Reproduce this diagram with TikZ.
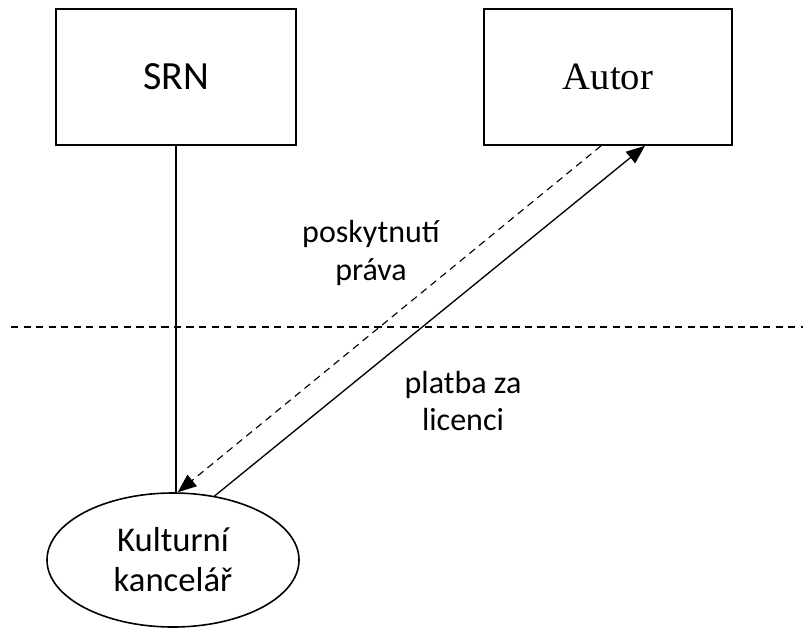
\documentclass[tikz,border=0pt]{standalone}
\usepackage{fontspec}
\setmainfont{Carlito}
\newfontfamily\autorfont{Liberation Serif}
\usetikzlibrary{arrows.meta,shapes.geometric}

\tikzset{
  box/.style={draw,line width=1.2pt,rectangle,inner sep=0pt,minimum height=102pt},
  lbl/.style={align=center,font=\fontsize{24}{28}\selectfont},
  arr/.style={line width=1pt,-{Triangle[length=14pt,width=11pt]}},
  dash line/.style={line width=0.85pt,dash pattern=on 5.4pt off 4pt}
}

\begin{document}
\begin{tikzpicture}[x=0.75pt,y=-0.75pt]
\useasboundingbox (0,0) rectangle (803,629);

\node[box,minimum width=180pt,align=center,font=\fontsize{30}{34}\selectfont] (srn) at (176,77) {SRN};
\node[box,minimum width=186pt,align=center,font=\fontsize{29}{34}\autorfont] (autor) at (608,77) {Autor};
\node[draw,ellipse,line width=1.2pt,inner sep=0pt,minimum width=189pt,minimum height=100.5pt,align=center,font=\fontsize{26}{30}\selectfont] (kancelar) at (173,560) {Kulturní\\kancelář};

\node[lbl] (pravo) at (371,253) {poskytnutí\\práva};
\node[lbl] (platba) at (463,401) {platba za\\licenci};

\coordinate (l1) at (11,327);
\coordinate (l2) at (803,327);
\draw [dash line] (l1) -- (l2);

\draw [line width=1.7pt] (srn.south) -- (srn.south |- kancelar.north);
\draw [arr,dash line] ([xshift=-5.2pt]autor.south) -- (kancelar.86);
\draw [arr] (kancelar.57) -- ([xshift=27.7pt]autor.south);
\end{tikzpicture}
\end{document}
